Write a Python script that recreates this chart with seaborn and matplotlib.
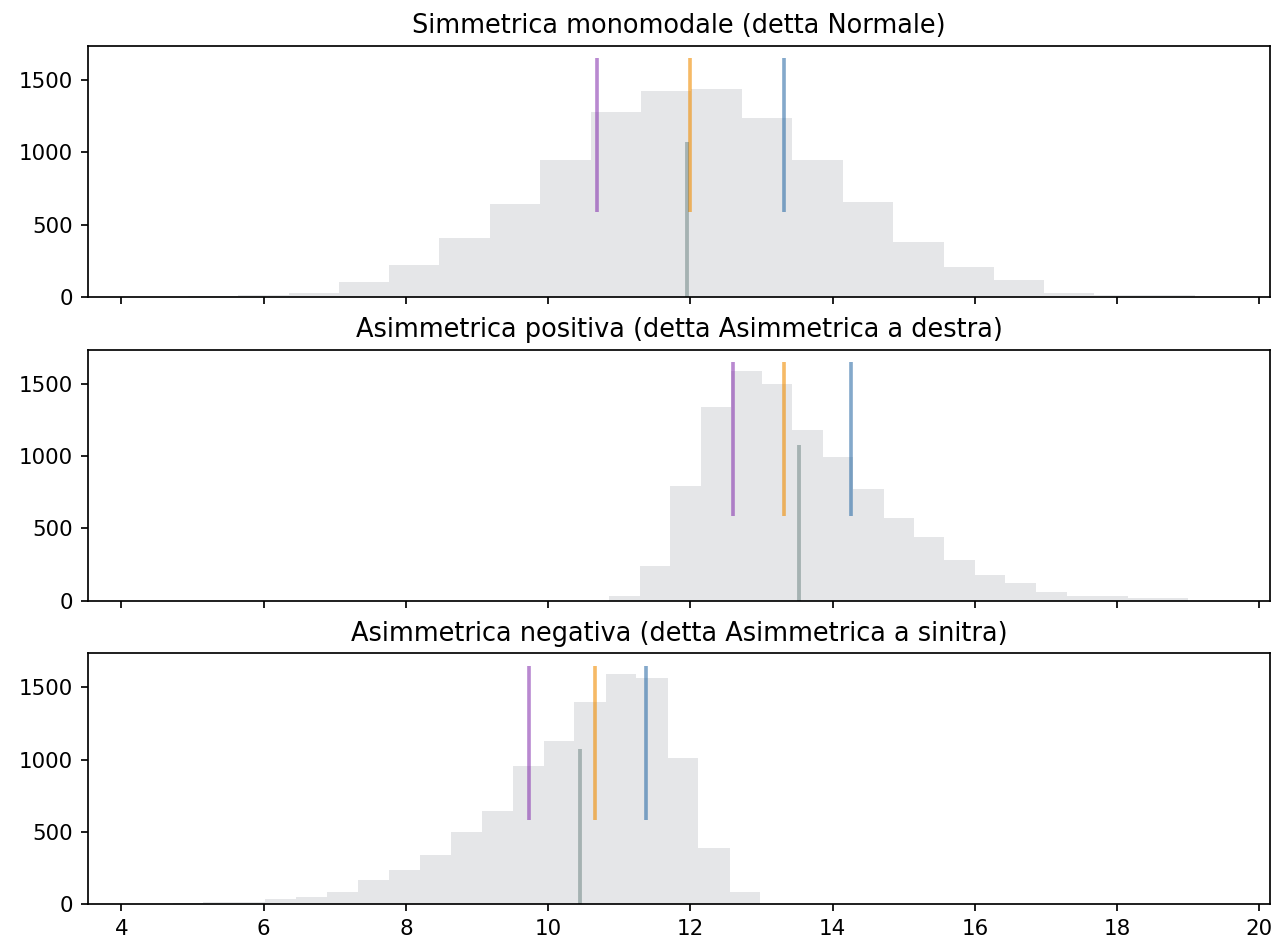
import numpy as np
import pandas as pd
import matplotlib
matplotlib.use("Agg")
import matplotlib.pyplot as plt
import seaborn as sns

# ---- data ----
titles = [
    "Simmetrica monomodale (detta Normale)",
    "Asimmetrica positiva (detta Asimmetrica a destra)",
    "Asimmetrica negativa (detta Asimmetrica a sinitra)",
]

normal_edges = [4.93, 5.64, 6.35, 7.06, 7.76, 8.47, 9.18, 9.89, 10.60, 11.31,
                12.01, 12.72, 13.43, 14.14, 14.85, 15.56, 16.27, 16.97, 17.68,
                18.39, 19.10]
normal_counts = [8, 13, 30, 103, 219, 407, 642, 944, 1278, 1422,
                 1438, 1235, 944, 654, 380, 206, 121, 30, 16, 11]

right_edges = [10.86, 11.29, 11.72, 12.15, 12.57, 13.00, 13.43, 13.86, 14.29,
               14.72, 15.15, 15.57, 16.00, 16.43, 16.86, 17.29, 17.72, 18.15,
               18.57, 19.00]
right_counts = [34, 238, 790, 1340, 1588, 1500, 1182, 994, 774, 570,
                440, 282, 179, 121, 62, 34, 34, 18, 18]

left_edges = [4.72, 5.15, 5.59, 6.02, 6.46, 6.89, 7.33, 7.76, 8.20, 8.63,
              9.07, 9.50, 9.94, 10.37, 10.81, 11.24, 11.68, 12.11, 12.55, 12.98]
left_counts = [12, 14, 16, 37, 50, 82, 167, 238, 344, 499,
               646, 953, 1127, 1402, 1592, 1562, 1010, 387, 85]

# first quartile, median, third quartile, mean
q1_values = [10.69, 12.60, 9.73]
median_values = [11.99, 13.31, 10.66]
q3_values = [13.31, 14.26, 11.37]
mean_values = [11.95, 13.52, 10.45]

quart_line_range = (585, 1650)
mean_line_top = 1075

edges_list = [normal_edges, right_edges, left_edges]
counts_list = [normal_counts, right_counts, left_counts]

# ---- plot ----
fig, axes = plt.subplots(3, 1, sharex=True, figsize=(1279 / 154, 940 / 154), dpi=154)
fig.subplots_adjust(left=0.0688, right=0.993, top=0.951, bottom=0.038, hspace=0.21)

hist_color = "#e5e6e8"
for i, ax in enumerate(axes):
    edges = list(edges_list[i])
    counts = list(counts_list[i])
    centers = [(a + b) / 2 for a, b in zip(edges[:-1], edges[1:])]
    df = pd.DataFrame({"value": centers, "count": counts})
    sns.histplot(data=df, x="value", weights="count", bins=edges, ax=ax,
                 color=hist_color, alpha=1, edgecolor="none", linewidth=0)
    ax.vlines(q1_values[i], quart_line_range[0], quart_line_range[1],
              color=(0.50, 0.16, 0.67), alpha=0.55, linewidth=1.7)
    ax.vlines(median_values[i], quart_line_range[0], quart_line_range[1],
              color=(0.94, 0.55, 0.0), alpha=0.6, linewidth=1.7)
    ax.vlines(q3_values[i], quart_line_range[0], quart_line_range[1],
              color=(0.12, 0.39, 0.63), alpha=0.55, linewidth=1.7)
    ax.vlines(mean_values[i], 0, mean_line_top,
              color=(0.14, 0.29, 0.27), alpha=0.33, linewidth=1.8)
    ax.set_title(titles[i])
    ax.set_ylabel("")
    ax.set_xlabel("")
    ax.set_ylim(0, 1735)
    ax.set_yticks([0, 500, 1000, 1500])

axes[0].set_xlim(3.53, 20.15)
axes[0].set_xticks([4, 6, 8, 10, 12, 14, 16, 18, 20])

fig.savefig("out.png", dpi=154)
